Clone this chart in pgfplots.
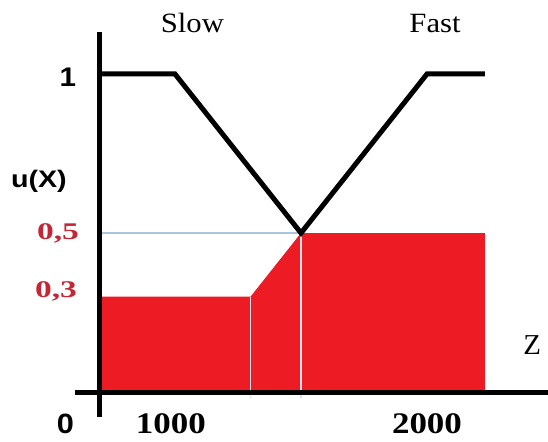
\documentclass[border=0pt]{standalone}
\usepackage{pgfplots}
\pgfplotsset{compat=1.18}
\usepackage{fontspec}
\setmainfont{Liberation Serif}
\newfontfamily\arial{Liberation Sans}
\usepackage{graphicx}
\definecolor{fillred}{RGB}{237,28,36}
\definecolor{labred}{RGB}{196,38,54}
\definecolor{guide}{RGB}{170,198,218}
\definecolor{guidew}{RGB}{215,228,238}
\begin{document}
\begin{tikzpicture}
\begin{axis}[name=ax, scale only axis, width=548bp, height=442bp,
  xmin=305.6, xmax=2480.2, ymin=-0.1572, ymax=1.2327,
  hide axis, clip=false]
% result area (max of clipped memberships)
\addplot[fill=fillred, draw=none] coordinates {(700,0.3) (1300,0.3) (1500,0.5) (2230,0.5)} \closedcycle;
% guide lines
\addplot[guide, line width=1.3bp] coordinates {(700,0.5) (1500,0.5)};
\addplot[guidew, line width=1.3bp] coordinates {(1300,-0.02) (1300,0.3)};
\addplot[guidew, line width=1.3bp] coordinates {(1500,-0.02) (1500,0.5)};
% membership functions Slow / Fast
\addplot[black, line width=5bp, line join=miter] coordinates {(700,1) (1000,1) (1500,0.5) (2000,1) (2230,1)};
% axes
\draw[line width=5bp] (axis cs:700,-0.0786) -- (axis cs:700,1.132);
\draw[line width=5bp] (axis cs:603,0) -- (axis cs:2480.2,0);
% labels
\node[anchor=base, inner sep=0pt] at (axis cs:1069,1.132) {\scalebox{1.1}[1]{\fontsize{28}{30}\selectfont Slow}};
\node[anchor=base, inner sep=0pt] at (axis cs:2032,1.132) {\scalebox{1.1}[1]{\fontsize{28}{30}\selectfont Fast}};
\node[anchor=base, inner sep=0pt] at (axis cs:575,0.962) {\scalebox{1.1}[1]{\arial\bfseries\fontsize{27}{29}\selectfont 1}};
\node[anchor=center, inner sep=0pt] at (axis cs:460,0.662) {\scalebox{1.2}[1]{\arial\bfseries\fontsize{24}{26}\selectfont u(X)}};
\node[anchor=base, inner sep=0pt, text=labred] at (axis cs:536,0.478) {\scalebox{1.4}[1]{\bfseries\fontsize{24}{26}\selectfont 0,5}};
\node[anchor=base, inner sep=0pt, text=labred] at (axis cs:528,0.296) {\scalebox{1.4}[1]{\bfseries\fontsize{24}{26}\selectfont 0,3}};
\node[anchor=base, inner sep=0pt] at (axis cs:565,-0.129) {\scalebox{1.1}[1]{\arial\bfseries\fontsize{28}{30}\selectfont 0}};
\node[anchor=base, inner sep=0pt] at (axis cs:984,-0.129) {\scalebox{1.17}[1]{\bfseries\fontsize{30}{32}\selectfont 1000}};
\node[anchor=base, inner sep=0pt] at (axis cs:2000,-0.129) {\scalebox{1.17}[1]{\bfseries\fontsize{30}{32}\selectfont 2000}};
\node[anchor=base, inner sep=0pt] at (axis cs:2417,0.1195) {\fontsize{29}{31}\selectfont Z};
\end{axis}
\pgfresetboundingbox
\path (ax.south west) rectangle (ax.north east);
\end{tikzpicture}
\end{document}
